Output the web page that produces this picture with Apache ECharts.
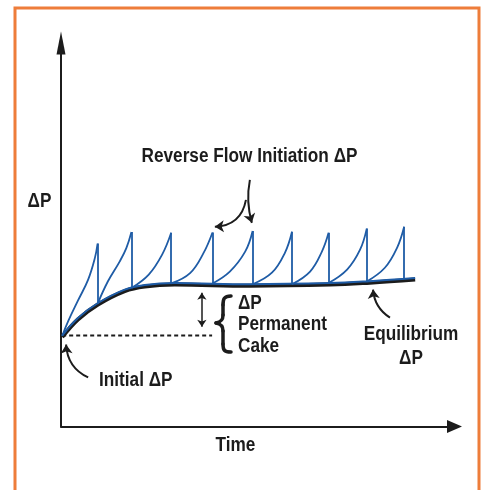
<!DOCTYPE html>
<html lang="en">
<head>
    <meta charset="UTF-8">
    <title>Reverse flow ΔP</title>
    <script src="https://cdn.jsdelivr.net/npm/echarts@6/dist/echarts.min.js"></script>
    <style>
        body {
            margin: 0;
            padding: 0;
            background: #fff;
        }
        #chart {
            width: 485px;
            height: 490px;
        }
    </style>
</head>
<body>
<div id="chart"></div>
<script>
    // time runs 0..100, ΔP runs 0..100 (arbitrary units)
    const startPoint = [0.3, 23.6]
    // reverse flow initiation points (top of each tooth)
    const peakTime = [9.3, 17.9, 28.0, 38.5, 48.7, 58.7, 68.0, 77.7, 87.2]
    const peakDP = [47.7, 50.7, 50.5, 50.6, 51.0, 50.8, 50.5, 51.6, 52.1]
    // where the ΔP falls back to after each reverse flow
    const dropDP = [32.0, 36.1, 37.3, 37.3, 37.1, 37.1, 37.4, 37.8, 38.4]
    // points
    const riseMid = [
        [[1.8, 27.4], [4.3, 32.8], [6.9, 38.3], [8.6, 43.9]],
        [[11.9, 37.8], [14.9, 43.0], [16.6, 46.5]],
        [[22.3, 39.6], [25.7, 44.8]],
        [[32.8, 40.0], [36.2, 45.2]],
        [[42.9, 40.4], [46.8, 45.6]],
        [[53.6, 40.1], [56.9, 45.3]],
        [[63.3, 40.4], [66.3, 45.6]],
        [[72.7, 40.9], [76.0, 46.1]],
        [[82.3, 41.4], [85.4, 46.6]]
    ]
    // permanent cake / equilibrium curve
    const eqTime = [0.3, 4.3, 9.4, 16.2, 21.3, 28.9, 48.0, 68.4, 78.5, 90.0]
    const eqBlack = [23.3, 27.9, 31.8, 35.3, 36.5, 37.0, 36.7, 37.0, 37.5, 38.3]
    const eqBlue = [23.7, 28.3, 32.2, 35.7, 36.9, 37.4, 37.1, 37.4, 37.9, 38.7]
    // initial ΔP reference (dashed)
    const initialLine = [[0.3, 23.7], [38.4, 23.7]]
    // ΔP permanent cake marker
    const cakeArrow = [[35.8, 34.9], [35.8, 26.0]]
    // callout arrows: [from, to, curveness]
    const callouts = [
        [[48.0, 64.3], [48.5, 53.1], -0.12],
        [[47.0, 59.1], [39.1, 52.1], 0.4],
        [[6.9, 12.8], [1.3, 21.4], 0.3],
        [[83.6, 28.4], [79.3, 35.7], 0.25]
    ]

    const BLUE = '#1f5ca6'
    const INK = '#1c1c1c'
    const FONT = 'bold 20px "Liberation Sans", Arial, sans-serif'

    function zip(xs, ys) {
        return xs.map((x, i) => [x, ys[i]])
    }

    // condensed look: squeeze the text horizontally
    function label(text, x, y, align) {
        return {
            type: 'text',
            x: x,
            y: y,
            scaleX: 0.86,
            z: 10,
            style: {
                text: text,
                font: FONT,
                fill: INK,
                align: align || 'center',
                verticalAlign: 'middle'
            }
        }
    }

    // curly brace next to "ΔP Permanent Cake"
    function brace() {
        const st = {stroke: INK, lineWidth: 3.5, fill: null, lineCap: 'round'}
        return [
            {type: 'bezierCurve', shape: {x1: 231, y1: 296, cpx1: 224, cpy1: 296, cpx2: 223, cpy2: 299, x2: 223, y2: 305}, style: st},
            {type: 'line', shape: {x1: 223, y1: 305, x2: 223, y2: 315}, style: st},
            {type: 'bezierCurve', shape: {x1: 223, y1: 315, cpx1: 223, cpy1: 320, cpx2: 221, cpy2: 322, x2: 216, y2: 323}, style: st},
            {type: 'bezierCurve', shape: {x1: 216, y1: 323, cpx1: 221, cpy1: 324, cpx2: 223, cpy2: 326, x2: 223, y2: 331}, style: st},
            {type: 'line', shape: {x1: 223, y1: 331, x2: 223, y2: 344}, style: st},
            {type: 'bezierCurve', shape: {x1: 223, y1: 344, cpx1: 223, cpy1: 350, cpx2: 224, cpy2: 352, x2: 231, y2: 352}, style: st}
        ]
    }

    let series = [
        {
            type: 'line',
            data: zip(eqTime, eqBlack),
            smooth: 0.4,
            showSymbol: false,
            lineStyle: {color: INK, width: 4},
            z: 2
        },
        {
            type: 'line',
            data: zip(eqTime, eqBlue),
            smooth: 0.4,
            showSymbol: false,
            lineStyle: {color: BLUE, width: 2},
            z: 3
        },
        {
            type: 'line',
            data: initialLine,
            showSymbol: false,
            lineStyle: {color: INK, width: 2, type: [4, 3]},
            z: 2
        }
    ]

    // rising part of every tooth
    peakTime.forEach((t, i) => {
        const from = i === 0 ? startPoint : [peakTime[i - 1], dropDP[i - 1]]
        series.push({
            type: 'line',
            data: [from].concat(riseMid[i], [[t, peakDP[i]]]),
            smooth: 0.4,
            showSymbol: false,
            lineStyle: {color: BLUE, width: 1.8},
            z: 4
        })
    })

    // vertical drops
    series.push({
        type: 'lines',
        coordinateSystem: 'cartesian2d',
        symbol: 'none',
        lineStyle: {color: BLUE, width: 1.8, opacity: 1},
        data: peakTime.map((t, i) => ({coords: [[t, peakDP[i]], [t, dropDP[i]]]})),
        z: 4
    })

    // callout arrows
    series.push({
        type: 'lines',
        coordinateSystem: 'cartesian2d',
        symbol: ['none', 'arrow'],
        symbolSize: 9,
        lineStyle: {color: INK, width: 2, opacity: 1},
        data: callouts.map(c => ({coords: [c[0], c[1]], lineStyle: {curveness: c[2]}})),
        z: 5
    })
    series.push({
        type: 'lines',
        coordinateSystem: 'cartesian2d',
        symbol: ['arrow', 'arrow'],
        symbolSize: 7,
        lineStyle: {color: INK, width: 1.5, opacity: 1},
        data: [{coords: cakeArrow}],
        z: 5
    })

    const chart = echarts.init(document.getElementById('chart'))
    chart.setOption({
        animation: false,
        grid: {left: 61, right: 30.5, top: 43, bottom: 63.5},
        xAxis: {
            type: 'value',
            min: 0,
            max: 100,
            axisLine: {
                show: true,
                symbol: ['none', 'triangle'],
                symbolSize: [13, 15],
                lineStyle: {color: INK, width: 2}
            },
            axisTick: {show: false},
            axisLabel: {show: false},
            splitLine: {show: false}
        },
        yAxis: {
            type: 'value',
            min: 0,
            max: 100,
            axisLine: {
                show: true,
                symbol: ['none', 'triangle'],
                symbolSize: [9, 23],
                lineStyle: {color: INK, width: 2}
            },
            axisTick: {show: false},
            axisLabel: {show: false},
            splitLine: {show: false}
        },
        graphic: [
            {
                type: 'polyline',
                shape: {points: [[15, 495], [15, 8], [479, 8], [479, 495]]},
                style: {stroke: '#ee7d3a', lineWidth: 3, fill: null}
            },
            ...brace(),
            label('Reverse Flow Initiation ΔP', 249.5, 156),
            label('ΔP', 39.5, 201),
            label('ΔP', 238, 303, 'left'),
            label('Permanent', 238, 324, 'left'),
            label('Cake', 238, 346, 'left'),
            label('Equilibrium', 411, 334),
            label('ΔP', 411, 358),
            label('Initial ΔP', 99, 380, 'left'),
            label('Time', 235.5, 445)
        ],
        series: series
    })
</script>
</body>
</html>
